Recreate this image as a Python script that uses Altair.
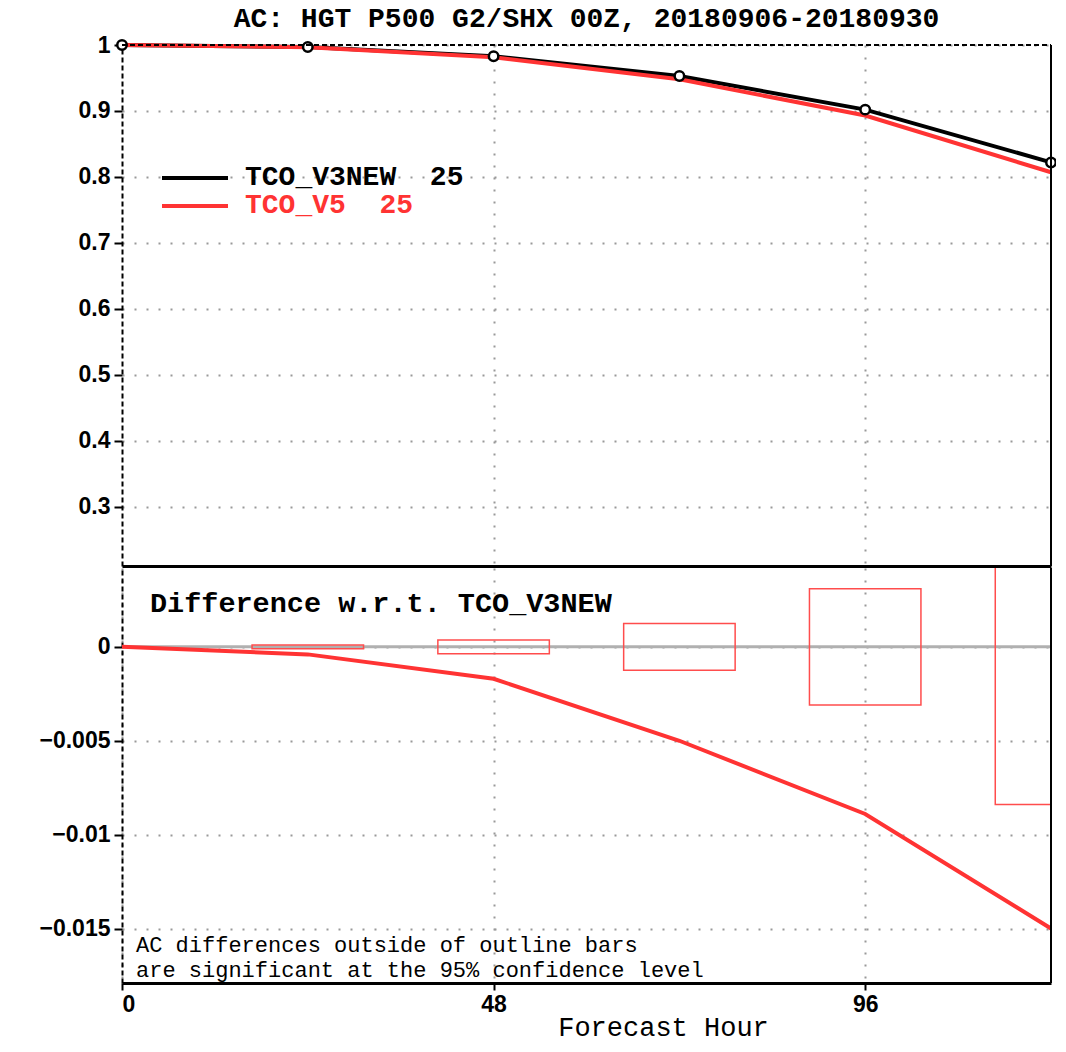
import altair as alt
import pandas as pd

# ---------------- data ----------------
hours = [0, 24, 48, 72, 96, 120]
ac_v3new = [1.0, 0.997, 0.983, 0.953, 0.902, 0.822]
ac_v5 = [1.0, 0.9966, 0.9813, 0.948, 0.8931, 0.807]
diff_v5 = [0.0, -0.0004, -0.0017, -0.0050, -0.0089, -0.0150]
bar_hours = [24, 48, 72, 96, 120]
bar_half = [0.0001, 0.00037, 0.00125, 0.0031, 0.0084]
series_names = ["TCO_V3NEW", "TCO_V5"]
series_counts = [25, 25]
series_colors = ["#000000", "#ff3333"]
top_ticks = [0.3, 0.4, 0.5, 0.6, 0.7, 0.8, 0.9, 1.0]
diff_ticks = [0, -0.005, -0.01, -0.015]
x_ticks = [0, 48, 96]
title_text = "AC: HGT P500 G2/SHX 00Z, 20180906-20180930"
diff_label = "Difference w.r.t. TCO_V3NEW"
note_lines = ["AC differences outside of outline bars",
              "are significant at the 95% confidence level"]
x_title = "Forecast Hour"

# ---------------- layout / style ----------------
W, H1, H2 = 929, 521, 415
MONO = "Liberation Mono"
SANS = "Liberation Sans"
RED = series_colors[1]
BAR_HALF_WIDTH = 7.2  # hours
NBSP = "\u00a0"

xscale = alt.Scale(domain=[0, 120], nice=False, zero=False)
top_y = alt.Scale(domain=[0.21, 1.0], nice=False, zero=False)
bot_y = alt.Scale(domain=[-0.0179, 0.0042], nice=False, zero=False)

grid_kw = dict(grid=True, gridDash=[2, 10], gridColor="#999999", gridWidth=2)
ylab_kw = dict(labelFont=SANS, labelFontWeight="bold", labelFontSize=23,
               labelColor="black", labelPadding=4, tickColor="black",
               tickSize=8, tickWidth=2, domainColor="black", domainWidth=2,
               domainDash=[5, 3], title=None)

x_top_axis = alt.Axis(values=[48, 96], labels=False, ticks=False,
                      domain=True, domainColor="black", domainWidth=3,
                      title=None, **grid_kw)
y_top_axis = alt.Axis(values=top_ticks, format="~g", **ylab_kw, **grid_kw)
x_bot_axis = alt.Axis(values=x_ticks, labelFont=SANS, labelFontWeight="bold",
                      labelFontSize=23, labelColor="black", labelPadding=3,
                      tickColor="black", tickSize=7, tickWidth=2,
                      domainColor="black", domainWidth=3,
                      title=x_title, titleFont=MONO, titleFontSize=27,
                      titleFontWeight="normal", titleColor="black",
                      titleX=541, titleY=52, titleBaseline="alphabetic",
                      **grid_kw)
y_bot_axis = alt.Axis(values=diff_ticks, format="~g", **ylab_kw, **grid_kw)

top_df = pd.DataFrame({
    "hour": hours + hours,
    "ac": ac_v3new + ac_v5,
    "model": [series_names[0]] * len(hours) + [series_names[1]] * len(hours),
})
v3_df = pd.DataFrame({"hour": hours, "ac": ac_v3new})
diff_df = pd.DataFrame({"hour": hours, "diff": diff_v5})
bar_df = pd.DataFrame({"hour": bar_hours, "half": bar_half})
one = pd.DataFrame({"k": [0]})

color_scale = alt.Scale(domain=series_names, range=series_colors)

# ---------------- top panel ----------------
lines_top = alt.Chart(top_df).mark_line(strokeWidth=4).encode(
    x=alt.X("hour:Q", scale=xscale, axis=x_top_axis),
    y=alt.Y("ac:Q", scale=top_y, axis=y_top_axis),
    color=alt.Color("model:N", scale=color_scale, legend=None),
    order=alt.Order("hour:Q"),
)

circles = alt.Chart(v3_df).mark_point(
    shape="circle", filled=True, fill="white", stroke="black",
    strokeWidth=2.5, size=90, opacity=1
).encode(
    x=alt.X("hour:Q", scale=xscale, axis=x_top_axis),
    y=alt.Y("ac:Q", scale=top_y, axis=y_top_axis),
)

top_border = alt.Chart(one).mark_rule(color="black", strokeWidth=2, strokeDash=[5, 3]).encode(
    x=alt.value(0), x2=alt.value(W), y=alt.value(0))
right_border_top = alt.Chart(one).mark_rule(color="black", strokeWidth=2).encode(
    x=alt.value(W), y=alt.value(0), y2=alt.value(H1))

legend_layers = []
for i, (name, cnt, col) in enumerate(zip(series_names, series_counts, series_colors)):
    legend_layers.append(
        alt.Chart(one).mark_rule(color=col, strokeWidth=4).encode(
            x=alt.value(40), x2=alt.value(106), y=alt.value(133 + 28 * i)))
    legend_layers.append(
        alt.Chart(one).mark_text(align="left", baseline="alphabetic", font=MONO,
                                 fontWeight="bold", fontSize=28, color=col).encode(
            x=alt.value(123), y=alt.value(140 + 28 * i),
            text=alt.value(f"{name}{NBSP}{NBSP}{cnt}")))

top = alt.layer(lines_top, circles, top_border, right_border_top, *legend_layers).properties(
    width=W, height=H1,
    title=alt.Title(title_text, font=MONO, fontSize=28, fontWeight="bold",
                    color="black", anchor="middle", frame="group", offset=1),
)

# ---------------- bottom panel ----------------
zero_line = alt.Chart(one).mark_rule(color="#b0b0b0", strokeWidth=3).encode(
    y=alt.Y("k:Q", scale=bot_y, axis=y_bot_axis))

boxes = alt.Chart(bar_df).transform_calculate(
    x0=f"datum.hour - {BAR_HALF_WIDTH}", x1=f"datum.hour + {BAR_HALF_WIDTH}",
    lo="-datum.half", hi="datum.half",
).mark_rect(fillOpacity=0, stroke="#ff4d4d", strokeWidth=1.5, clip=True).encode(
    x=alt.X("x0:Q", scale=xscale, axis=x_bot_axis),
    x2="x1:Q",
    y=alt.Y("lo:Q", scale=bot_y, axis=y_bot_axis),
    y2="hi:Q",
)

diff_line = alt.Chart(diff_df).mark_line(color=RED, strokeWidth=4).encode(
    x=alt.X("hour:Q", scale=xscale, axis=x_bot_axis),
    y=alt.Y("diff:Q", scale=bot_y, axis=y_bot_axis),
)

diff_text = alt.Chart(one).mark_text(align="left", baseline="alphabetic", font=MONO,
                                     fontWeight="bold", fontSize=28.5, color="black").encode(
    x=alt.value(28), y=alt.value(44), text=alt.value(diff_label))

note_layers = [
    alt.Chart(one).mark_text(align="left", baseline="alphabetic", font=MONO,
                             fontSize=22, color="black").encode(
        x=alt.value(14), y=alt.value(384 + 25 * i), text=alt.value(t))
    for i, t in enumerate(note_lines)
]

right_border_bot = alt.Chart(one).mark_rule(color="black", strokeWidth=2).encode(
    x=alt.value(W), y=alt.value(0), y2=alt.value(H2))

bottom = alt.layer(zero_line, boxes, diff_line, diff_text, *note_layers,
                   right_border_bot).properties(width=W, height=H2)

chart = alt.vconcat(top, bottom, spacing=0).properties(
    padding={"left": 31, "top": -3, "right": -5, "bottom": 0},
    background="white",
).configure_view(stroke=None)

chart.save("out.html", embed_options={"renderer": "svg", "actions": False})
